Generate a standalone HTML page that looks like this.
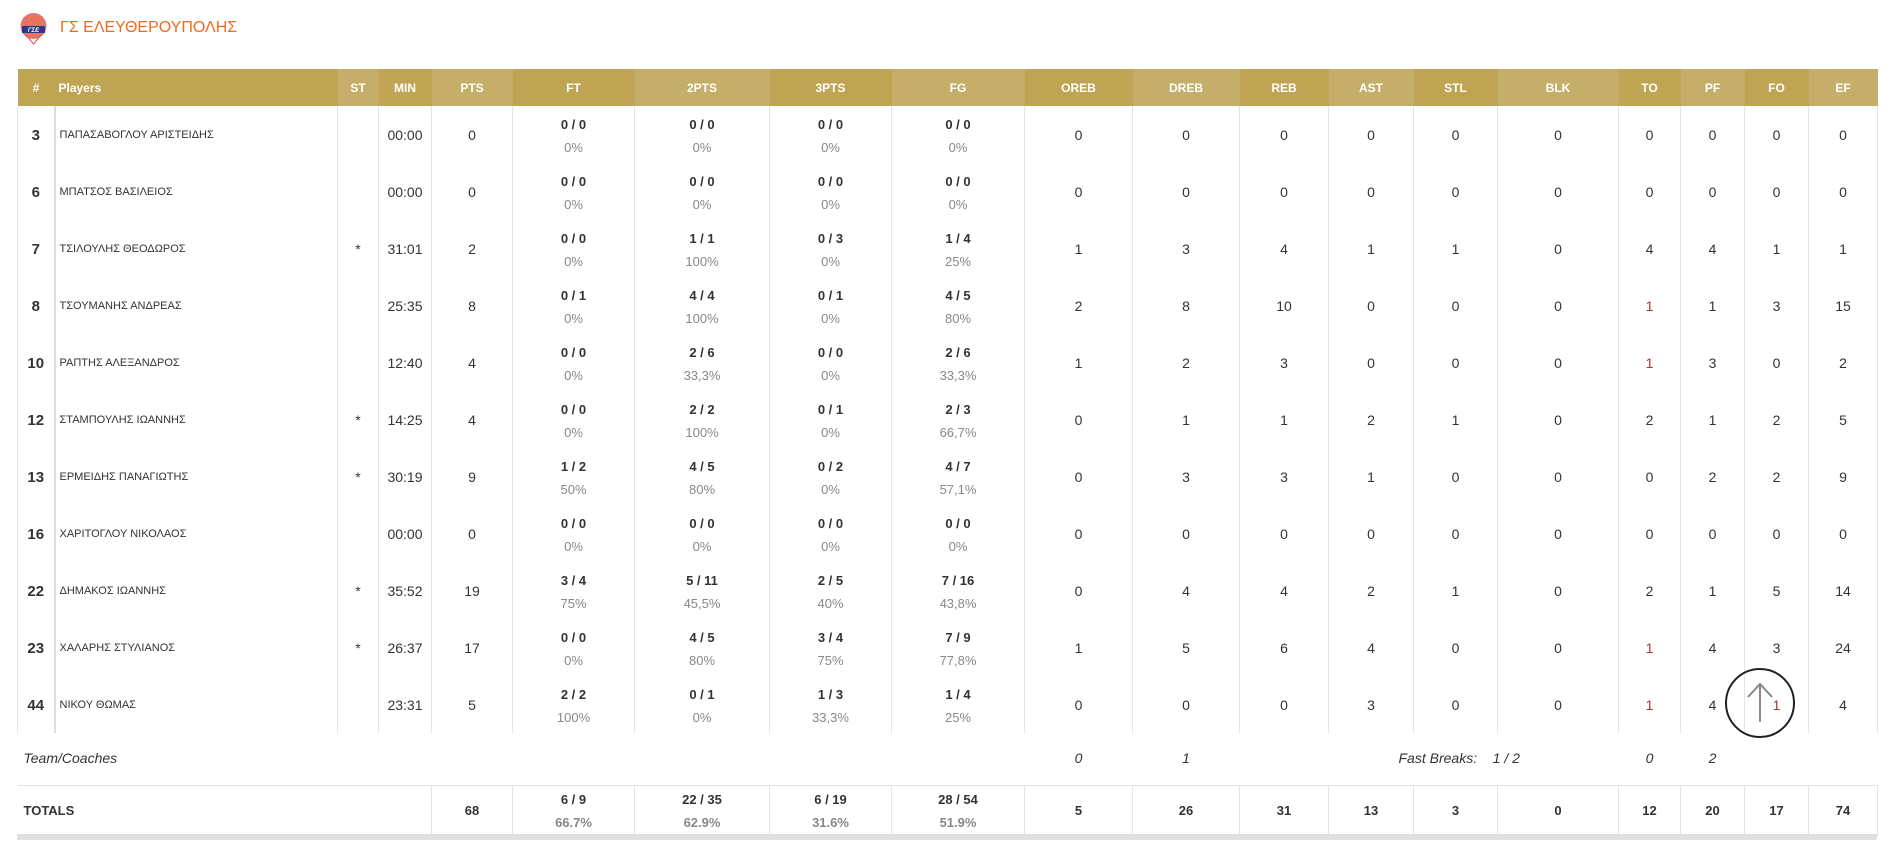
<!DOCTYPE html>
<html><head><meta charset="utf-8"><style>
body{margin:0;background:#fff;width:1894px;height:843px;overflow:hidden;font-family:"Liberation Sans","DejaVu Sans",sans-serif;color:#333}
.title{position:absolute;left:60px;top:19px;font-size:16px;color:#f26a1b}
.logo{position:absolute;left:19px;top:12px;width:29px;height:33px}
table{position:absolute;left:17px;top:69px;border-collapse:collapse;table-layout:fixed;width:1860px}
th{height:37px;color:#fff;font-size:12px;font-weight:bold;text-align:center;padding:0}
th.d{background:#bea453}th.l{background:#c5ae6a}
td{height:55px;padding:2px 0 0 0;text-align:center;font-size:14px;border-left:1px solid #e4e4e4;border-right:1px solid #e4e4e4;line-height:23px;box-sizing:border-box}
tr.pl td{height:57px}
td.n{font-weight:bold;font-size:15px;border-right:2px solid #ddd}
td.p{text-align:left;font-size:11px;padding-left:4px}
td b{font-size:13px;display:block}
td i{font-style:normal;color:#888;font-size:13px;display:block}
.r{color:#a33}
tr.team td{border:none;height:52px;font-style:italic;font-size:14px;padding:0;white-space:nowrap}
tr.tot td{height:51px;font-weight:bold;font-size:13px;border-top:1px solid #e4e4e4;padding:0}
tr.tot td i{font-weight:bold}
tr.tot td.noL{border-left:none;border-right:1px solid #e4e4e4}
.bar{position:absolute;left:17px;top:834px;width:1860px;height:6px;background:#e0e0e0}
.up{position:absolute;left:1725px;top:668px;width:70px;height:70px;border:2px solid #222;border-radius:50%;box-sizing:border-box}
</style></head><body>
<svg class="logo" viewBox="0 0 29 33"><circle cx="14.5" cy="14" r="13" fill="#d9534f" opacity=".8"/><circle cx="14.5" cy="14" r="10" fill="#e8735a"/><rect x="3" y="14" width="23" height="7" fill="#2a3a8a"/><text x="14.5" y="20" font-size="6" fill="#fff" text-anchor="middle" font-style="italic" font-weight="bold">ΓΣΕ</text><path d="M7 23 L14.5 32 L22 23" stroke="#d9534f" fill="none"/></svg>
<div class="title">ΓΣ ΕΛΕΥΘΕΡΟΥΠΟΛΗΣ</div>
<table>
<colgroup><col style="width:37px"><col style="width:283px"><col style="width:41px"><col style="width:53px"><col style="width:81px"><col style="width:122px"><col style="width:135px"><col style="width:122px"><col style="width:133px"><col style="width:108px"><col style="width:107px"><col style="width:89px"><col style="width:85px"><col style="width:84px"><col style="width:121px"><col style="width:62px"><col style="width:64px"><col style="width:64px"><col style="width:69px"></colgroup>
<tr><th class="d">#</th><th class="d" style="text-align:left;padding-left:4px">Players</th><th class="l">ST</th><th class="d">MIN</th><th class="l">PTS</th><th class="d">FT</th><th class="l">2PTS</th><th class="d">3PTS</th><th class="l">FG</th><th class="d">OREB</th><th class="l">DREB</th><th class="d">REB</th><th class="l">AST</th><th class="d">STL</th><th class="l">BLK</th><th class="d">TO</th><th class="l">PF</th><th class="d">FO</th><th class="l">EF</th></tr>
<tr class="pl"><td class="n">3</td><td class="p">ΠΑΠΑΣΑΒΟΓΛΟΥ ΑΡΙΣΤΕΙΔΗΣ</td><td></td><td>00:00</td><td>0</td><td><b>0 / 0</b><i>0%</i></td><td><b>0 / 0</b><i>0%</i></td><td><b>0 / 0</b><i>0%</i></td><td><b>0 / 0</b><i>0%</i></td><td>0</td><td>0</td><td>0</td><td>0</td><td>0</td><td>0</td><td>0</td><td>0</td><td>0</td><td>0</td></tr>
<tr class="pl"><td class="n">6</td><td class="p">ΜΠΑΤΣΟΣ ΒΑΣΙΛΕΙΟΣ</td><td></td><td>00:00</td><td>0</td><td><b>0 / 0</b><i>0%</i></td><td><b>0 / 0</b><i>0%</i></td><td><b>0 / 0</b><i>0%</i></td><td><b>0 / 0</b><i>0%</i></td><td>0</td><td>0</td><td>0</td><td>0</td><td>0</td><td>0</td><td>0</td><td>0</td><td>0</td><td>0</td></tr>
<tr class="pl"><td class="n">7</td><td class="p">ΤΣΙΛΟΥΛΗΣ ΘΕΟΔΩΡΟΣ</td><td>*</td><td>31:01</td><td>2</td><td><b>0 / 0</b><i>0%</i></td><td><b>1 / 1</b><i>100%</i></td><td><b>0 / 3</b><i>0%</i></td><td><b>1 / 4</b><i>25%</i></td><td>1</td><td>3</td><td>4</td><td>1</td><td>1</td><td>0</td><td>4</td><td>4</td><td>1</td><td>1</td></tr>
<tr class="pl"><td class="n">8</td><td class="p">ΤΣΟΥΜΑΝΗΣ ΑΝΔΡΕΑΣ</td><td></td><td>25:35</td><td>8</td><td><b>0 / 1</b><i>0%</i></td><td><b>4 / 4</b><i>100%</i></td><td><b>0 / 1</b><i>0%</i></td><td><b>4 / 5</b><i>80%</i></td><td>2</td><td>8</td><td>10</td><td>0</td><td>0</td><td>0</td><td class="r">1</td><td>1</td><td>3</td><td>15</td></tr>
<tr class="pl"><td class="n">10</td><td class="p">ΡΑΠΤΗΣ ΑΛΕΞΑΝΔΡΟΣ</td><td></td><td>12:40</td><td>4</td><td><b>0 / 0</b><i>0%</i></td><td><b>2 / 6</b><i>33,3%</i></td><td><b>0 / 0</b><i>0%</i></td><td><b>2 / 6</b><i>33,3%</i></td><td>1</td><td>2</td><td>3</td><td>0</td><td>0</td><td>0</td><td class="r">1</td><td>3</td><td>0</td><td>2</td></tr>
<tr class="pl"><td class="n">12</td><td class="p">ΣΤΑΜΠΟΥΛΗΣ ΙΩΑΝΝΗΣ</td><td>*</td><td>14:25</td><td>4</td><td><b>0 / 0</b><i>0%</i></td><td><b>2 / 2</b><i>100%</i></td><td><b>0 / 1</b><i>0%</i></td><td><b>2 / 3</b><i>66,7%</i></td><td>0</td><td>1</td><td>1</td><td>2</td><td>1</td><td>0</td><td>2</td><td>1</td><td>2</td><td>5</td></tr>
<tr class="pl"><td class="n">13</td><td class="p">ΕΡΜΕΙΔΗΣ ΠΑΝΑΓΙΩΤΗΣ</td><td>*</td><td>30:19</td><td>9</td><td><b>1 / 2</b><i>50%</i></td><td><b>4 / 5</b><i>80%</i></td><td><b>0 / 2</b><i>0%</i></td><td><b>4 / 7</b><i>57,1%</i></td><td>0</td><td>3</td><td>3</td><td>1</td><td>0</td><td>0</td><td>0</td><td>2</td><td>2</td><td>9</td></tr>
<tr class="pl"><td class="n">16</td><td class="p">ΧΑΡΙΤΟΓΛΟΥ ΝΙΚΟΛΑΟΣ</td><td></td><td>00:00</td><td>0</td><td><b>0 / 0</b><i>0%</i></td><td><b>0 / 0</b><i>0%</i></td><td><b>0 / 0</b><i>0%</i></td><td><b>0 / 0</b><i>0%</i></td><td>0</td><td>0</td><td>0</td><td>0</td><td>0</td><td>0</td><td>0</td><td>0</td><td>0</td><td>0</td></tr>
<tr class="pl"><td class="n">22</td><td class="p">ΔΗΜΑΚΟΣ ΙΩΑΝΝΗΣ</td><td>*</td><td>35:52</td><td>19</td><td><b>3 / 4</b><i>75%</i></td><td><b>5 / 11</b><i>45,5%</i></td><td><b>2 / 5</b><i>40%</i></td><td><b>7 / 16</b><i>43,8%</i></td><td>0</td><td>4</td><td>4</td><td>2</td><td>1</td><td>0</td><td>2</td><td>1</td><td>5</td><td>14</td></tr>
<tr class="pl"><td class="n">23</td><td class="p">ΧΑΛΑΡΗΣ ΣΤΥΛΙΑΝΟΣ</td><td>*</td><td>26:37</td><td>17</td><td><b>0 / 0</b><i>0%</i></td><td><b>4 / 5</b><i>80%</i></td><td><b>3 / 4</b><i>75%</i></td><td><b>7 / 9</b><i>77,8%</i></td><td>1</td><td>5</td><td>6</td><td>4</td><td>0</td><td>0</td><td class="r">1</td><td>4</td><td>3</td><td>24</td></tr>
<tr class="pl"><td class="n">44</td><td class="p">ΝΙΚΟΥ ΘΩΜΑΣ</td><td></td><td>23:31</td><td>5</td><td><b>2 / 2</b><i>100%</i></td><td><b>0 / 1</b><i>0%</i></td><td><b>1 / 3</b><i>33,3%</i></td><td><b>1 / 4</b><i>25%</i></td><td>0</td><td>0</td><td>0</td><td>3</td><td>0</td><td>0</td><td class="r">1</td><td>4</td><td class="r">1</td><td>4</td></tr>
<tr class="team"><td colspan="9" style="text-align:left;padding-left:6px">Team/Coaches</td><td>0</td><td>1</td><td></td><td colspan="3" style="text-align:left;padding-left:70px">Fast Breaks: &nbsp;&nbsp; 1 / 2</td><td>0</td><td>2</td><td></td><td></td></tr>
<tr class="tot"><td colspan="4" class="noL" style="text-align:left;padding-left:6px">TOTALS</td><td>68</td><td><b>6 / 9</b><i>66.7%</i></td><td><b>22 / 35</b><i>62.9%</i></td><td><b>6 / 19</b><i>31.6%</i></td><td><b>28 / 54</b><i>51.9%</i></td><td>5</td><td>26</td><td>31</td><td>13</td><td>3</td><td>0</td><td>12</td><td>20</td><td>17</td><td>74</td></tr>
</table>
<div class="bar"></div>
<div class="up"><svg width="66" height="66" viewBox="0 0 66 66"><path d="M33 52 V14 M21 27 L33 14 L45 27" stroke="#888" stroke-width="2" fill="none"/></svg></div>
</body></html>
